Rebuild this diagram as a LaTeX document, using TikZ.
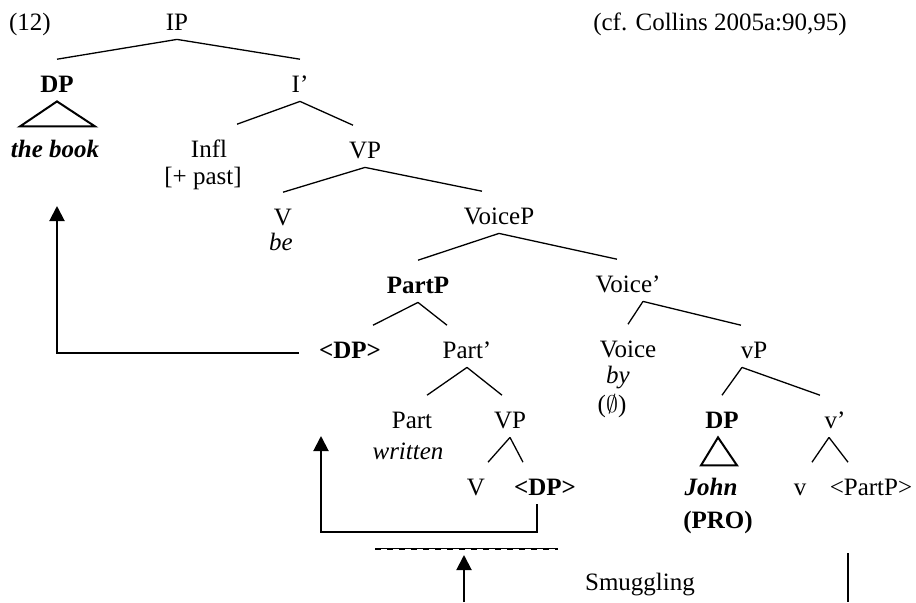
\documentclass[tikz,border=0pt]{standalone}
\usepackage{fontspec}
\setmainfont{Liberation Serif}
\usepackage{tikz}
\usetikzlibrary{arrows.meta}
\tikzset{
	cat/.style = {
			anchor      = base,
			inner sep   = 0pt,
			text height = 16.2pt,
			text depth  = 4.5pt,
		},
	word/.style = {anchor=base, inner sep=0pt},
	branch/.style = {line width=0.65pt},
	roof/.style = {line width=1pt, line join=miter},
	move/.style = {line width=1pt, -{Triangle[length=7.5pt,width=7.5pt]}},
}

\begin{document}
\begin{tikzpicture}[x=0.5pt, y=-0.5pt, font=\fontsize{12.5}{15}\selectfont]
	\useasboundingbox (0,0) rectangle (916,602);

	% Example number and source
	\node[word] (num) at (30,30) {(12)};
	\node[word] (cf) at (720,30) {(cf. Collins 2005a:90,95)};

	% Category labels, row by row
	\node[cat] (ip) at (177,30) {IP};

	\node[cat] (dp1) at (57,92) {\textbf{DP}};
	\node[cat] (ibar) at (300,92) {I'};

	\node[word] (book) at (55,157) {\textbf{\textit{the book}}};
	\node[cat] (infl) at (209,157) {Infl};
	\node[word] (past) at (203,184) {[+ past]};
	\node[cat] (vp1) at (365,158) {VP};

	\node[cat] (v1) at (283,225) {V};
	\node[word] (be) at (281,250) {\textit{be}};
	\node[cat] (voicep) at (499,224) {VoiceP};

	\node[cat] (partp) at (418,293) {\textbf{PartP}};
	\node[cat] (voicebar) at (628,292) {Voice'};

	\node[cat] (dp3) at (350,358) {\textbf{<DP>}};
	\node[cat] (partbar) at (467,358) {Part'};
	\node[cat] (voice) at (628,357) {Voice};
	\node[word] (by) at (618,383) {\textit{by}};
	\node[word] (null) at (612,412) {($\emptyset$)};
	\node[cat] (vp3) at (754,358) {vP};

	\node[cat] (part) at (412,428) {Part};
	\node[word] (written) at (408,459) {\textit{written}};
	\node[cat] (vp2) at (510,428) {VP};
	\node[cat] (dp2) at (722,428) {\textbf{DP}};
	\node[cat] (vbar) at (835,428) {v'};

	\node[cat] (v2) at (476,495) {V};
	\node[cat] (dp4) at (545,495) {\textbf{<DP>}};
	\node[word] (john) at (711,495) {\textbf{\textit{John}}};
	\node[word] (pro) at (718,528) {\textbf{(PRO)}};
	\node[cat] (v3) at (800,495) {v};
	\node[cat] (partp2) at (871,495) {<PartP>};

	% Branches
	\draw[branch] (ip.south) -- (dp1.north);
	\draw[branch] (ip.south) -- (ibar.north);
	\draw[branch] (ibar.south) -- ([xshift=14pt]infl.north);
	\draw[branch] (ibar.south) -- ([xshift=-6pt]vp1.north);
	\draw[branch] (vp1.south) -- (v1.north);
	\draw[branch] (vp1.south) -- ([xshift=-8.5pt]voicep.north);
	\draw[branch] (voicep.south) -- (partp.north);
	\draw[branch] (voicep.south) -- ([xshift=-5.5pt]voicebar.north);
	\draw[branch] (partp.south) -- ([xshift=11.5pt]dp3.north);
	\draw[branch] (partp.south) -- ([xshift=-10pt]partbar.north);
	\draw[branch] ([xshift=7.5pt]voicebar.south) -- (voice.north);
	\draw[branch] ([xshift=7.5pt]voicebar.south) -- ([xshift=-6.5pt]vp3.north);
	\draw[branch] (partbar.south) -- ([xshift=7.5pt]part.north);
	\draw[branch] (partbar.south) -- ([xshift=-4pt]vp2.north);
	\draw[branch] ([xshift=-6pt]vp3.south) -- (dp2.north);
	\draw[branch] ([xshift=-6pt]vp3.south) -- ([xshift=-7.5pt]vbar.north);
	\draw[branch] (vp2.south) -- ([xshift=6pt]v2.north);
	\draw[branch] (vp2.south) -- ([xshift=-11pt]dp4.north);
	\draw[branch] ([xshift=-3pt]vbar.south) -- ([xshift=6pt]v3.north);
	\draw[branch] ([xshift=-3pt]vbar.south) -- ([xshift=-11.5pt]partp2.north);

	% Triangles over the DPs
	\draw[roof] (dp1.south) -- ++(-37,25) -- ++(75,0) -- cycle;
	\draw[roof] ([xshift=-2pt]dp2.south) -- ++(-17,28) -- ++(36,0) -- cycle;

	% Movement of the DP
	\coordinate (land1) at (57,206);
	\draw[move] ([xshift=-10pt]dp3.mid west) -| (land1);
	\coordinate (turn) at (321,532);
	\coordinate (land2) at (321,436);
	\draw[move] ([xshift=-4pt]dp4.south) |- (turn) -- (land2);

	% Smuggling
	\coordinate (trl) at (375,548);
	\coordinate (trr) at (558,548);
	\draw[line width=0.5pt] (trl) -- (trr);
	\draw[line width=0.5pt, dash pattern=on 3pt off 3pt] ([yshift=-0.7pt]trl) -- ([yshift=-0.7pt]trr);
	\coordinate (foot) at (464,602);
	\coordinate (tip) at (464,555);
	\draw[move] (foot) -- (tip);
	\node[word] (smug) at (640,590) {Smuggling};
	\coordinate (bar1) at (848,553);
	\coordinate (bar2) at (848,602);
	\draw[line width=1pt] (bar1) -- (bar2);
\end{tikzpicture}
\end{document}
